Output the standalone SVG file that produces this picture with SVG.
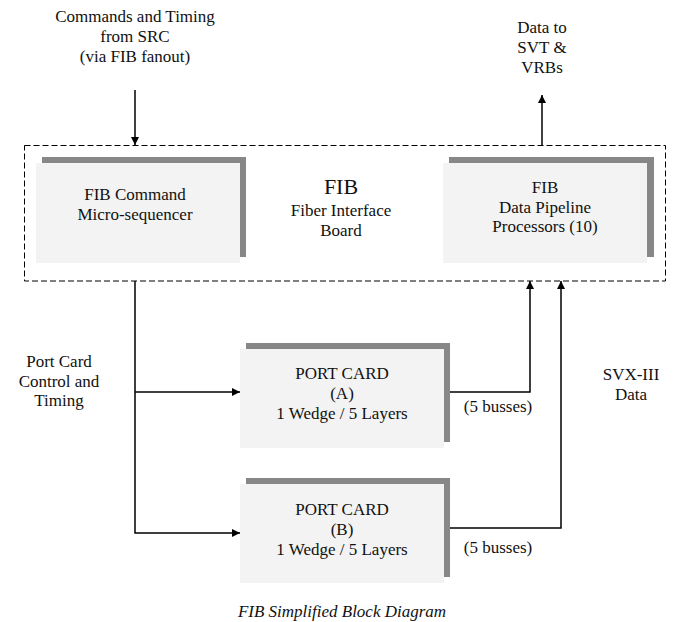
<svg xmlns="http://www.w3.org/2000/svg" width="676" height="622" viewBox="0 0 676 622">
  <style>
    text { font-family: 'Liberation Serif', 'Times New Roman', Times, 'DejaVu Serif', serif; font-size: 17px; fill: #111; text-anchor: middle; }
    .big { font-size: 22px; }
    .cap { font-style: italic; }
    .shadow { fill: #878787; }
    .face { fill: #f3f3f3; }
    .wire { fill: none; stroke: #000; stroke-width: 1.5; }
    .board { fill: none; stroke: #000; stroke-width: 1; stroke-dasharray: 6 3; }
  </style>
  <defs>
    <marker id="arrow" markerUnits="userSpaceOnUse" markerWidth="9" markerHeight="9" refX="8" refY="4" orient="auto">
      <path d="M0,0 L8,4 L0,8 Z" fill="#000"/>
    </marker>
  </defs>
  <rect width="676" height="622" fill="#fff"/>

  <!-- Fiber Interface Board outline -->
  <g id="fib-board">
    <rect class="board" x="24.5" y="145.5" width="641" height="135.5"/>
    <text class="big" x="341" y="194">FIB</text>
    <text x="341" y="216">Fiber Interface</text>
    <text x="341" y="236">Board</text>
  </g>

  <g id="command-sequencer">
    <rect class="shadow" x="42" y="157" width="204" height="100"/>
    <rect class="face" x="36" y="163" width="204" height="100"/>
    <text x="135" y="200">FIB Command</text>
    <text x="135" y="220">Micro-sequencer</text>
  </g>

  <g id="data-pipeline">
    <rect class="shadow" x="449" y="157" width="205" height="100"/>
    <rect class="face" x="443" y="163" width="204" height="100"/>
    <text x="545" y="193">FIB</text>
    <text x="545" y="213">Data Pipeline</text>
    <text x="545" y="232">Processors (10)</text>
  </g>

  <g id="port-card-a">
    <rect class="shadow" x="246" y="343" width="204" height="99"/>
    <rect class="face" x="240" y="349" width="204" height="99"/>
    <text x="342" y="379">PORT CARD</text>
    <text x="342" y="399">(A)</text>
    <text x="342" y="419">1 Wedge / 5 Layers</text>
  </g>

  <g id="port-card-b">
    <rect class="shadow" x="246" y="478" width="204" height="99"/>
    <rect class="face" x="240" y="484" width="204" height="99"/>
    <text x="342" y="515">PORT CARD</text>
    <text x="342" y="535">(B)</text>
    <text x="342" y="555">1 Wedge / 5 Layers</text>
  </g>

  <g id="labels">
    <text x="135" y="22">Commands and Timing</text>
    <text x="135" y="42">from SRC</text>
    <text x="135" y="62">(via FIB fanout)</text>
    <text x="542" y="33">Data to</text>
    <text x="542" y="53">SVT &amp;</text>
    <text x="542" y="73">VRBs</text>
    <text x="59" y="367">Port Card</text>
    <text x="59" y="387">Control and</text>
    <text x="59" y="406">Timing</text>
    <text x="631" y="380">SVX-III</text>
    <text x="631" y="400">Data</text>
    <text x="498" y="412">(5 busses)</text>
    <text x="498" y="553">(5 busses)</text>
    <text class="cap" x="342" y="617">FIB Simplified Block Diagram</text>
  </g>

  <g id="connectors">
    <line class="wire" x1="135" y1="90" x2="135" y2="145" marker-end="url(#arrow)"/>
    <line class="wire" x1="542" y1="146" x2="542" y2="95" marker-end="url(#arrow)"/>
    <polyline class="wire" points="135,281 135,533 240,533" marker-end="url(#arrow)"/>
    <line class="wire" x1="135" y1="392" x2="240" y2="392" marker-end="url(#arrow)"/>
    <polyline class="wire" points="450,392 530,392 530,281" marker-end="url(#arrow)"/>
    <polyline class="wire" points="450,528 561,528 561,281" marker-end="url(#arrow)"/>
  </g>
</svg>
